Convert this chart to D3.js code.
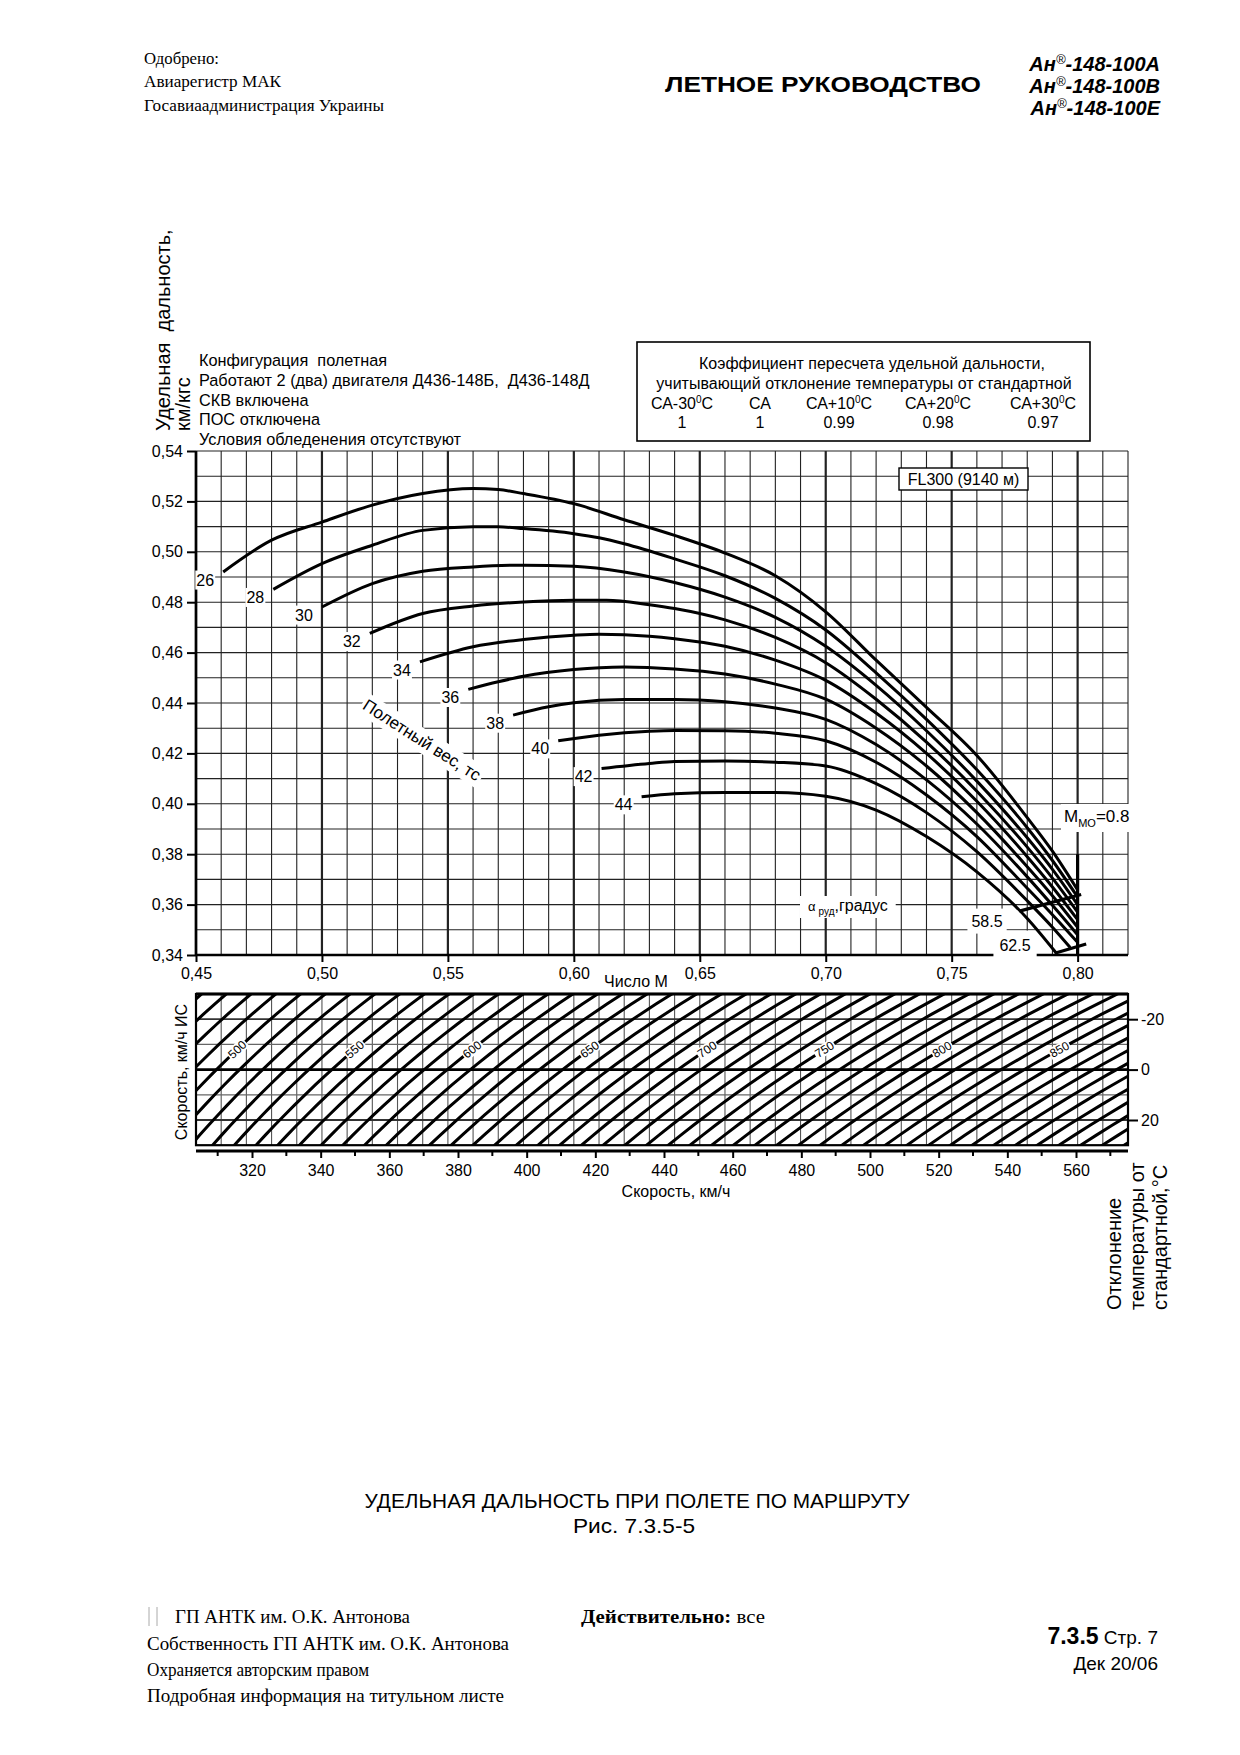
<!DOCTYPE html>
<html><head><meta charset="utf-8">
<script src="https://cdn.jsdelivr.net/npm/d3@7/dist/d3.min.js"></script>
<style>
body{margin:0;background:#fff;}
text{font-family:'Liberation Sans',Arial,sans-serif;fill:#000;white-space:pre;}
.serif{font-family:'Liberation Serif','Times New Roman',serif;}
</style></head><body>
<svg id="chart" width="1240" height="1755" xmlns="http://www.w3.org/2000/svg"></svg>
<script>
// ---------------- data ----------------
const machTicks = [0.45,0.50,0.55,0.60,0.65,0.70,0.75,0.80];
const rangeTicks = [0.34,0.36,0.38,0.40,0.42,0.44,0.46,0.48,0.50,0.52,0.54];
const iasTicks = [320,340,360,380,400,420,440,460,480,500,520,540,560];
const iasMinorTicks = [310,330,350,370,390,410,430,450,470,490,510,530,550,570];
const tempTicks = [-20,0,20];
const weights = [26,28,30,32,34,36,38,40,42,44];

const c26 = [[0.4608,0.4920],[0.4800,0.5046],[0.5000,0.5118],[0.5200,0.5185],[0.5400,0.5231],[0.5600,0.5251],[0.5700,0.5247],[0.5800,0.5231],[0.6000,0.5191],[0.6200,0.5127],[0.6400,0.5065],[0.6600,0.4995],[0.6800,0.4905],[0.7000,0.4762],[0.7200,0.4570],[0.7400,0.4383],[0.7600,0.4192],[0.7800,0.3945],[0.7900,0.3812],[0.8000,0.3658]];
const c28 = [[0.4807,0.4851],[0.5000,0.4953],[0.5200,0.5026],[0.5400,0.5085],[0.5600,0.5099],[0.5700,0.5099],[0.5800,0.5092],[0.6000,0.5072],[0.6100,0.5056],[0.6200,0.5032],[0.6400,0.4972],[0.6600,0.4905],[0.6800,0.4815],[0.7000,0.4690],[0.7200,0.4520],[0.7400,0.4335],[0.7600,0.4135],[0.7800,0.3905],[0.7900,0.3775],[0.8000,0.3630]];
const c30 = [[0.5000,0.4781],[0.5200,0.4874],[0.5400,0.4923],[0.5600,0.4940],[0.5800,0.4947],[0.6000,0.4943],[0.6200,0.4920],[0.6400,0.4878],[0.6600,0.4820],[0.6800,0.4740],[0.7000,0.4625],[0.7200,0.4470],[0.7400,0.4290],[0.7600,0.4090],[0.7800,0.3865],[0.7900,0.3740],[0.8000,0.3600]];
const c32 = [[0.5190,0.4676],[0.5400,0.4755],[0.5600,0.4785],[0.5800,0.4801],[0.6000,0.4808],[0.6130,0.4808],[0.6300,0.4790],[0.6400,0.4775],[0.6600,0.4730],[0.6800,0.4660],[0.7000,0.4560],[0.7200,0.4415],[0.7400,0.4245],[0.7600,0.4050],[0.7800,0.3828],[0.7900,0.3705],[0.8000,0.3570]];
const c34 = [[0.5389,0.4563],[0.5600,0.4623],[0.5800,0.4652],[0.6000,0.4669],[0.6100,0.4673],[0.6300,0.4665],[0.6400,0.4655],[0.6600,0.4625],[0.6800,0.4570],[0.7000,0.4490],[0.7200,0.4360],[0.7400,0.4200],[0.7600,0.4010],[0.7800,0.3790],[0.7900,0.3670],[0.8000,0.3540]];
const c36 = [[0.5581,0.4454],[0.5700,0.4484],[0.5800,0.4506],[0.6000,0.4533],[0.6200,0.4543],[0.6400,0.4535],[0.6600,0.4515],[0.6800,0.4475],[0.7000,0.4415],[0.7200,0.4300],[0.7400,0.4150],[0.7600,0.3965],[0.7800,0.3750],[0.7900,0.3635],[0.8000,0.3510]];
const c38 = [[0.5759,0.4352],[0.5900,0.4385],[0.6000,0.4401],[0.6200,0.4414],[0.6400,0.4414],[0.6600,0.4405],[0.6800,0.4380],[0.7000,0.4335],[0.7200,0.4235],[0.7400,0.4095],[0.7600,0.3920],[0.7800,0.3710],[0.7900,0.3597],[0.8000,0.3480]];
const c40 = [[0.5938,0.4250],[0.6100,0.4272],[0.6300,0.4288],[0.6400,0.4291],[0.6600,0.4290],[0.6800,0.4280],[0.7000,0.4250],[0.7200,0.4165],[0.7400,0.4035],[0.7600,0.3870],[0.7800,0.3665],[0.7900,0.3560],[0.8000,0.3450]];
const c42 = [[0.6110,0.4140],[0.6300,0.4160],[0.6400,0.4168],[0.6600,0.4170],[0.6800,0.4165],[0.7000,0.4150],[0.7200,0.4080],[0.7400,0.3965],[0.7600,0.3810],[0.7800,0.3615],[0.7900,0.3510],[0.7970,0.3430]];
const c44 = [[0.6269,0.4028],[0.6400,0.4040],[0.6600,0.4045],[0.6800,0.4045],[0.7000,0.4030],[0.7200,0.3975],[0.7400,0.3870],[0.7600,0.3730],[0.7800,0.3545],[0.7915,0.3408]];
const weightCurves = [c26,c28,c30,c32,c34,c36,c38,c40,c42,c44];

const tasLines = [460,470,480,490,500,510,520,530,540,550,560,570,580,590,600,610,620,630,640,650,660,670,680,690,700,710,720,730,740,750,760,770,780,790,800,810,820,830,840,850,860,870,880,890,900,910,920,930,940,950];
const tasLabels = [500,550,600,650,700,750,800,850];
const alpha585 = [[0.7769,0.3574],[0.8014,0.3640]];
const alpha625 = [[0.7909,0.3407],[0.8034,0.3444]];
const mmoLine = [[0.80,0.380],[0.80,0.340]];
const coefHeads = [['СА-30','C'],['СА',''],['СА+10','C'],['СА+20','C'],['СА+30','C']];
const coefVals = ['1','1','0.99','0.98','0.97'];
const configLines = ['Конфигурация  полетная','Работают 2 (два) двигателя Д436-148Б,  Д436-148Д','СКВ включена','ПОС отключена','Условия обледенения отсутствуют'];

// ---------------- scales ----------------
const x = d3.scaleLinear().domain([0.45,0.82]).range([196,1128]);
const y = d3.scaleLinear().domain([0.34,0.54]).range([955,451]);
const tY = d3.scaleLinear().domain([-30,30]).range([994,1145.2]);
const ias = d3.scaleLinear().domain([320,560]).range([252,1076]);
const T0 = 228.71; // ISA temperature at FL300, K
const machOf = (V,dT) => V/3.6/(20.0468*Math.sqrt(T0+dT));

const svg = d3.select('#chart');
const fmt = d => d.toFixed(2).replace('.',',');

function label(g, str, px, py, o={}) {
  const gg = g.append('g').attr('transform', `translate(${px},${py})` + (o.rot?` rotate(${o.rot})`:''));
  const t = gg.append('text').attr('text-anchor', o.anchor||'middle')
    .attr('dy', o.dy||'0.35em').style('font-size',(o.size||16)+'px').text(str);
  if (o.bg) {
    const b = t.node().getBBox(); const p = o.pad||2;
    gg.insert('rect','text').attr('x',b.x-p).attr('y',b.y-p+ (o.shrink||0))
      .attr('width',b.width+2*p).attr('height',b.height+2*p-2*(o.shrink||0)).attr('fill','#fff');
  }
  return gg;
}

// ---------------- header ----------------
const hdr = svg.append('g');
[['Одобрено:',64,75],['Авиарегистр МАК',87,137],['Госавиаадминистрация Украины',111,240]].forEach(([s,yy,w])=>{
  hdr.append('text').attr('class','serif').attr('x',144).attr('y',yy).style('font-size','16px')
    .attr('textLength',w).attr('lengthAdjust','spacingAndGlyphs').text(s);
});
hdr.append('text').attr('x',665).attr('y',92).style('font-size','22px').style('font-weight','bold')
  .attr('textLength',316).attr('lengthAdjust','spacingAndGlyphs').text('ЛЕТНОЕ РУКОВОДСТВО');
['А','В','Е'].forEach((s,i)=>{
  const t = hdr.append('text').attr('x',1160).attr('y',71+i*22).attr('text-anchor','end')
    .style('font-size','20px').style('font-weight','bold').style('font-style','italic');
  t.append('tspan').text('Ан');
  t.append('tspan').attr('dy',-7).style('font-size','13px').style('font-weight','normal').text('®');
  t.append('tspan').attr('dy',7).text('-148-100'+s);
});

// ---------------- upper chart ----------------
const up = svg.append('g');
const gridX = d3.range(45,83).map(d=>d/100);
const gridY = d3.range(34,55).map(d=>d/100);
up.append('g').selectAll('line').data(gridX).join('line')
  .attr('x1',d=>x(d)).attr('x2',d=>x(d)).attr('y1',y(0.54)).attr('y2',y(0.34))
  .attr('stroke','#222').attr('stroke-width',d=>Math.round(d*100)%5===0?2.2:1.1);
up.append('g').selectAll('line').data(gridY).join('line')
  .attr('x1',x(0.45)).attr('x2',x(0.82)).attr('y1',d=>y(d)).attr('y2',d=>y(d))
  .attr('stroke','#222').attr('stroke-width',1.1);

const axB = up.append('g').attr('transform',`translate(0,${y(0.34)})`)
  .call(d3.axisBottom(x).tickValues(machTicks).tickFormat(fmt).tickSize(7).tickPadding(6));
axB.select('.domain').attr('stroke','#000').attr('stroke-width',2.6).attr('d',`M${x(0.45)},0H${x(0.82)}`);
axB.selectAll('.tick line').attr('stroke','#000').attr('stroke-width',2);
axB.selectAll('.tick text').style('font-size','16px').style('font-family',"'Liberation Sans',Arial,sans-serif");
const axL = up.append('g').attr('transform',`translate(${x(0.45)},0)`)
  .call(d3.axisLeft(y).tickValues(rangeTicks).tickFormat(fmt).tickSize(9).tickPadding(4));
axL.select('.domain').attr('stroke','#000').attr('stroke-width',2.6).attr('d',`M0,${y(0.54)}V${y(0.34)}`);
axL.selectAll('.tick line').attr('stroke','#000').attr('stroke-width',2);
axL.selectAll('.tick text').style('font-size','16px').style('font-family',"'Liberation Sans',Arial,sans-serif");

up.append('text').attr('x',636).attr('y',987).attr('text-anchor','middle').style('font-size','16px').text('Число М');

// y title
up.append('text').attr('transform','translate(170,431) rotate(-90)').style('font-size','20px').text('Удельная  дальность,');
up.append('text').attr('transform','translate(190,431) rotate(-90)').style('font-size','20px').text('км/кгс');

// config text
configLines.forEach((s,i)=>up.append('text').attr('x',199).attr('y',366+i*19.8).style('font-size','16.3px').text(s));

// coefficient box
const cb = up.append('g');
cb.append('rect').attr('x',637).attr('y',342).attr('width',453).attr('height',99).attr('fill','#fff').attr('stroke','#000').attr('stroke-width',1.6);
cb.append('text').attr('x',872).attr('y',369).attr('text-anchor','middle').style('font-size','16px').text('Коэффициент пересчета удельной дальности,');
cb.append('text').attr('x',864).attr('y',389).attr('text-anchor','middle').style('font-size','16px').text('учитывающий отклонение температуры от стандартной');
const colX = [682,760,839,938,1043];
coefHeads.forEach(([a,c],i)=>{
  const t = cb.append('text').attr('x',colX[i]).attr('y',409).attr('text-anchor','middle').style('font-size','16px');
  t.append('tspan').text(a);
  if (c) { t.append('tspan').attr('dy',-6).style('font-size','10px').text('0'); t.append('tspan').attr('dy',6).text(c); }
});
coefVals.forEach((v,i)=>cb.append('text').attr('x',colX[i]).attr('y',428).attr('text-anchor','middle').style('font-size','16px').text(v));

// FL box
up.append('rect').attr('x',899).attr('y',468).attr('width',129).attr('height',22).attr('fill','#fff').attr('stroke','#000').attr('stroke-width',1.4);
up.append('text').attr('x',963.5).attr('y',485).attr('text-anchor','middle').style('font-size','16px').text('FL300 (9140 м)');

// labels with white background
const lab = up.append('g');
weights.forEach((w,i)=>{
  const s = weightCurves[i][0];
  label(lab, String(w), x(s[0])-18, y(s[1])+8, {bg:true,size:16,pad:1});
});
label(lab,'Полетный вес, тс',422,740,{bg:true,rot:32.6,size:17,pad:2});
label(lab,'58.5',987,921,{bg:true,size:16,pad:4});
label(lab,'62.5',1015,945,{bg:true,size:16,pad:6});
{
  const g = lab.append('g');
  const t = g.append('text').attr('x',808).attr('y',911).style('font-size','16px');
  t.append('tspan').style('font-size','13px').text('α');
  t.append('tspan').attr('dy',4).attr('dx',3).style('font-size','10px').text('руд');
  t.append('tspan').attr('dy',-4).text(',градус');
  const b = t.node().getBBox();
  g.insert('rect','text').attr('x',b.x-8).attr('y',b.y-1).attr('width',b.width+16).attr('height',b.height+2).attr('fill','#fff');
}
{
  const g = lab.append('g');
  const t = g.append('text').attr('x',1064).attr('y',822).style('font-size','17px');
  t.append('tspan').text('M');
  t.append('tspan').attr('dy',5).style('font-size','11px').text('МО');
  t.append('tspan').attr('dy',-5).text('=0.8');
  const b = t.node().getBBox();
  g.insert('rect','text').attr('x',b.x-3).attr('y',b.y-3).attr('width',b.width+6).attr('height',b.height+6).attr('fill','#fff');
}

// curves
const line = d3.line().x(d=>x(d[0])).y(d=>y(d[1])).curve(d3.curveMonotoneX);
up.append('g').selectAll('path').data(weightCurves).join('path')
  .attr('d',line).attr('fill','none').attr('stroke','#000').attr('stroke-width',3).attr('stroke-linecap','butt');
const seg = d3.line().x(d=>x(d[0])).y(d=>y(d[1]));
[alpha585,alpha625,mmoLine].forEach(a=>up.append('path').attr('d',seg(a)).attr('fill','none').attr('stroke','#000').attr('stroke-width',3.2));

// ---------------- lower chart ----------------
const lo = svg.append('g');
lo.append('defs').append('clipPath').attr('id','lclip').append('rect')
  .attr('x',x(0.45)).attr('y',tY(-30)).attr('width',x(0.82)-x(0.45)).attr('height',tY(30)-tY(-30));
lo.append('g').selectAll('line').data(gridX).join('line')
  .attr('x1',d=>x(d)).attr('x2',d=>x(d)).attr('y1',tY(-30)).attr('y2',tY(30))
  .attr('stroke','#555').attr('stroke-width',1.1);
const tGrid = [-20,-10,0,10,20];
lo.append('g').selectAll('line').data(tGrid).join('line')
  .attr('x1',x(0.45)).attr('x2',x(0.82)).attr('y1',d=>tY(d)).attr('y2',d=>tY(d))
  .attr('stroke',d=>d===0?'#000':(d%20===0?'#333':'#666')).attr('stroke-width',d=>d===0?2.6:(d%20===0?1.8:1.3));

const tasLine = d3.line().x(d=>x(d[0])).y(d=>tY(d[1]));
const dTs = d3.range(-34,35,4);
lo.append('g').attr('clip-path','url(#lclip)').selectAll('path').data(tasLines).join('path')
  .attr('d',V=>tasLine(dTs.map(t=>[machOf(V,t),t]))).attr('fill','none').attr('stroke','#000').attr('stroke-width',3);

tasLabels.forEach(V=>{
  const px = x(machOf(V,-8)), py = tY(-8);
  const ax = x(machOf(V,-14)), ay = tY(-14), bx = x(machOf(V,-2)), by = tY(-2);
  const ang = Math.atan2(ay-by, ax-bx)*180/Math.PI;
  label(lo,String(V),px,py,{bg:true,rot:ang,size:12,pad:1,shrink:2});
});

lo.append('rect').attr('x',x(0.45)).attr('y',tY(-30)).attr('width',x(0.82)-x(0.45)).attr('height',tY(30)-tY(-30))
  .attr('fill','none').attr('stroke','#000').attr('stroke-width',2.2);
lo.append('line').attr('x1',x(0.45)).attr('x2',x(0.82)).attr('y1',tY(-30)).attr('y2',tY(-30)).attr('stroke','#000').attr('stroke-width',3);

const axS = lo.append('g').attr('transform','translate(0,1151)')
  .call(d3.axisBottom(ias).tickValues(iasTicks).tickSize(7).tickPadding(7));
axS.select('.domain').attr('stroke','#000').attr('stroke-width',2.8).attr('d',`M${x(0.45)},0H${x(0.82)}`);
axS.selectAll('.tick line').attr('stroke','#000').attr('stroke-width',2);
axS.selectAll('.tick text').style('font-size','16px').style('font-family',"'Liberation Sans',Arial,sans-serif");
lo.append('g').selectAll('line').data(iasMinorTicks).join('line')
  .attr('x1',d=>ias(d)).attr('x2',d=>ias(d)).attr('y1',1151).attr('y2',1156).attr('stroke','#000').attr('stroke-width',2);
lo.append('text').attr('x',676).attr('y',1197).attr('text-anchor','middle').style('font-size','16px').text('Скорость, км/ч');

const axT = lo.append('g').attr('transform',`translate(${x(0.82)},0)`)
  .call(d3.axisRight(tY).tickValues(tempTicks).tickFormat(d=>String(d)).tickSize(10).tickPadding(3));
axT.select('.domain').remove();
axT.selectAll('.tick line').attr('stroke','#000').attr('stroke-width',2);
axT.selectAll('.tick text').style('font-size','16px').style('font-family',"'Liberation Sans',Arial,sans-serif");

lo.append('text').attr('transform','translate(187,1072) rotate(-90)').attr('text-anchor','middle').style('font-size','16px').text('Скорость, км/ч ИС');
['Отклонение','температуры от','стандартной,°С'].forEach((s,i)=>{
  lo.append('text').attr('transform',`translate(${1121+i*23},1310) rotate(-90)`).style('font-size','20px').text(s);
});

// ---------------- footer ----------------
const ft = svg.append('g');
ft.append('text').attr('x',637).attr('y',1508).attr('text-anchor','middle').style('font-size','21px')
  .attr('textLength',545).attr('lengthAdjust','spacingAndGlyphs').text('УДЕЛЬНАЯ ДАЛЬНОСТЬ ПРИ ПОЛЕТЕ ПО МАРШРУТУ');
ft.append('text').attr('x',634).attr('y',1533).attr('text-anchor','middle').style('font-size','21px')
  .attr('textLength',122).attr('lengthAdjust','spacingAndGlyphs').text('Рис. 7.3.5-5');

ft.append('line').attr('x1',149).attr('x2',149).attr('y1',1607).attr('y2',1626).attr('stroke','#aaa').attr('stroke-width',1);
ft.append('line').attr('x1',157).attr('x2',157).attr('y1',1607).attr('y2',1626).attr('stroke','#aaa').attr('stroke-width',1);
[['ГП АНТК им. О.К. Антонова',175,1623,235],['Собственность ГП АНТК им. О.К. Антонова',147,1650,362],
 ['Охраняется авторским правом',147,1676,222],['Подробная информация на титульном листе',147,1702,357]].forEach(([s,xx,yy,w])=>{
  ft.append('text').attr('class','serif').attr('x',xx).attr('y',yy).style('font-size','18px')
    .attr('textLength',w).attr('lengthAdjust','spacingAndGlyphs').text(s);
});
{
  const t = ft.append('text').attr('class','serif').attr('x',581).attr('y',1623).style('font-size','19px')
    .attr('textLength',184).attr('lengthAdjust','spacingAndGlyphs');
  t.append('tspan').style('font-weight','bold').text('Действительно:');
  t.append('tspan').text(' все');
}
{
  const t = ft.append('text').attr('x',1158).attr('y',1644).attr('text-anchor','end').style('font-size','19px');
  t.append('tspan').style('font-weight','bold').style('font-size','23px').text('7.3.5');
  t.append('tspan').text(' Стр. 7');
}
ft.append('text').attr('x',1158).attr('y',1670).attr('text-anchor','end').style('font-size','19px').text('Дек 20/06');
</script>
</body></html>
